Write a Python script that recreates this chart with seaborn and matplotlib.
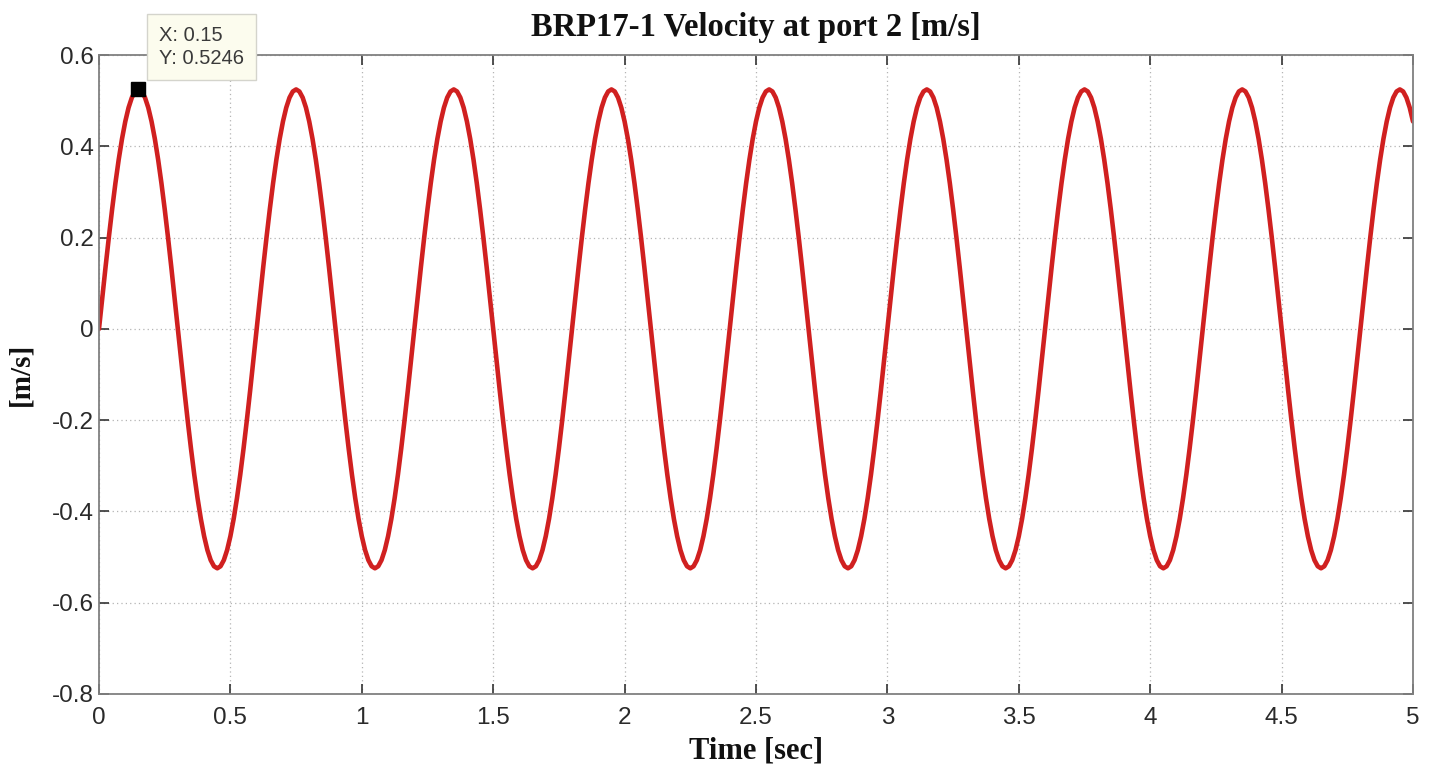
import numpy as np
import pandas as pd
import matplotlib
matplotlib.use("Agg")
import matplotlib.pyplot as plt
import seaborn as sns

# ---- data (samples every 0.0125 s) ----
time_step = 0.0125
velocity = [
    0.0, 0.0685, 0.1358, 0.2008, 0.2623, 0.3194, 0.3709, 0.4162, 0.4543, 0.4847, 0.5067, 0.5201,
    0.5246, 0.5201, 0.5067, 0.4847, 0.4543, 0.4162, 0.3709, 0.3194, 0.2623, 0.2008, 0.1358, 0.0685,
    0.0, -0.0685, -0.1358, -0.2008, -0.2623, -0.3194, -0.3709, -0.4162, -0.4543, -0.4847, -0.5067, -0.5201,
    -0.5246, -0.5201, -0.5067, -0.4847, -0.4543, -0.4162, -0.3709, -0.3194, -0.2623, -0.2008, -0.1358, -0.0685,
    0.0, 0.0685, 0.1358, 0.2008, 0.2623, 0.3194, 0.3709, 0.4162, 0.4543, 0.4847, 0.5067, 0.5201,
    0.5246, 0.5201, 0.5067, 0.4847, 0.4543, 0.4162, 0.3709, 0.3194, 0.2623, 0.2008, 0.1358, 0.0685,
    0.0, -0.0685, -0.1358, -0.2008, -0.2623, -0.3194, -0.3709, -0.4162, -0.4543, -0.4847, -0.5067, -0.5201,
    -0.5246, -0.5201, -0.5067, -0.4847, -0.4543, -0.4162, -0.3709, -0.3194, -0.2623, -0.2008, -0.1358, -0.0685,
    0.0, 0.0685, 0.1358, 0.2008, 0.2623, 0.3194, 0.3709, 0.4162, 0.4543, 0.4847, 0.5067, 0.5201,
    0.5246, 0.5201, 0.5067, 0.4847, 0.4543, 0.4162, 0.3709, 0.3194, 0.2623, 0.2008, 0.1358, 0.0685,
    0.0, -0.0685, -0.1358, -0.2008, -0.2623, -0.3194, -0.3709, -0.4162, -0.4543, -0.4847, -0.5067, -0.5201,
    -0.5246, -0.5201, -0.5067, -0.4847, -0.4543, -0.4162, -0.3709, -0.3194, -0.2623, -0.2008, -0.1358, -0.0685,
    0.0, 0.0685, 0.1358, 0.2008, 0.2623, 0.3194, 0.3709, 0.4162, 0.4543, 0.4847, 0.5067, 0.5201,
    0.5246, 0.5201, 0.5067, 0.4847, 0.4543, 0.4162, 0.3709, 0.3194, 0.2623, 0.2008, 0.1358, 0.0685,
    0.0, -0.0685, -0.1358, -0.2008, -0.2623, -0.3194, -0.3709, -0.4162, -0.4543, -0.4847, -0.5067, -0.5201,
    -0.5246, -0.5201, -0.5067, -0.4847, -0.4543, -0.4162, -0.3709, -0.3194, -0.2623, -0.2008, -0.1358, -0.0685,
    0.0, 0.0685, 0.1358, 0.2008, 0.2623, 0.3194, 0.3709, 0.4162, 0.4543, 0.4847, 0.5067, 0.5201,
    0.5246, 0.5201, 0.5067, 0.4847, 0.4543, 0.4162, 0.3709, 0.3194, 0.2623, 0.2008, 0.1358, 0.0685,
    0.0, -0.0685, -0.1358, -0.2008, -0.2623, -0.3194, -0.3709, -0.4162, -0.4543, -0.4847, -0.5067, -0.5201,
    -0.5246, -0.5201, -0.5067, -0.4847, -0.4543, -0.4162, -0.3709, -0.3194, -0.2623, -0.2008, -0.1358, -0.0685,
    0.0, 0.0685, 0.1358, 0.2008, 0.2623, 0.3194, 0.3709, 0.4162, 0.4543, 0.4847, 0.5067, 0.5201,
    0.5246, 0.5201, 0.5067, 0.4847, 0.4543, 0.4162, 0.3709, 0.3194, 0.2623, 0.2008, 0.1358, 0.0685,
    0.0, -0.0685, -0.1358, -0.2008, -0.2623, -0.3194, -0.3709, -0.4162, -0.4543, -0.4847, -0.5067, -0.5201,
    -0.5246, -0.5201, -0.5067, -0.4847, -0.4543, -0.4162, -0.3709, -0.3194, -0.2623, -0.2008, -0.1358, -0.0685,
    0.0, 0.0685, 0.1358, 0.2008, 0.2623, 0.3194, 0.3709, 0.4162, 0.4543, 0.4847, 0.5067, 0.5201,
    0.5246, 0.5201, 0.5067, 0.4847, 0.4543, 0.4162, 0.3709, 0.3194, 0.2623, 0.2008, 0.1358, 0.0685,
    0.0, -0.0685, -0.1358, -0.2008, -0.2623, -0.3194, -0.3709, -0.4162, -0.4543, -0.4847, -0.5067, -0.5201,
    -0.5246, -0.5201, -0.5067, -0.4847, -0.4543, -0.4162, -0.3709, -0.3194, -0.2623, -0.2008, -0.1358, -0.0685,
    0.0, 0.0685, 0.1358, 0.2008, 0.2623, 0.3194, 0.3709, 0.4162, 0.4543, 0.4847, 0.5067, 0.5201,
    0.5246, 0.5201, 0.5067, 0.4847, 0.4543, 0.4162, 0.3709, 0.3194, 0.2623, 0.2008, 0.1358, 0.0685,
    0.0, -0.0685, -0.1358, -0.2008, -0.2623, -0.3194, -0.3709, -0.4162, -0.4543, -0.4847, -0.5067, -0.5201,
    -0.5246, -0.5201, -0.5067, -0.4847, -0.4543, -0.4162, -0.3709, -0.3194, -0.2623, -0.2008, -0.1358, -0.0685,
    0.0, 0.0685, 0.1358, 0.2008, 0.2623, 0.3194, 0.3709, 0.4162, 0.4543, 0.4847, 0.5067, 0.5201,
    0.5246, 0.5201, 0.5067, 0.4847, 0.4543,
]
time_s = [round(i * time_step, 4) for i in range(len(velocity))]

datatip_x = 0.15
datatip_y = 0.5246

x_ticks = [0, 0.5, 1, 1.5, 2, 2.5, 3, 3.5, 4, 4.5, 5]
x_tick_labels = ["0", "0.5", "1", "1.5", "2", "2.5", "3", "3.5", "4", "4.5", "5"]
y_ticks = [-0.8, -0.6, -0.4, -0.2, 0, 0.2, 0.4, 0.6]
y_tick_labels = ["-0.8", "-0.6", "-0.4", "-0.2", "0", "0.2", "0.4", "0.6"]

title = "BRP17-1 Velocity at port 2 [m/s]"
x_label = "Time [sec]"
y_label = "[m/s]"

df = pd.DataFrame({"time": time_s, "velocity": velocity})

# ---- style ----
sns.set_theme(style="white")
plt.rcParams["font.family"] = ["Liberation Sans", "DejaVu Sans"]

fig = plt.figure(figsize=(14.37, 7.74), dpi=100)
ax = fig.add_axes([99 / 1437, 1 - 694 / 774, (1413 - 99) / 1437, (694 - 55) / 774])

sns.lineplot(data=df, x="time", y="velocity", ax=ax, color="#d02020",
             linewidth=3.3, solid_joinstyle="round", solid_capstyle="round")

ax.plot([datatip_x], [datatip_y], marker="s", color="black", markersize=10,
        linestyle="none", clip_on=False, zorder=5)

ax.set_xlim(0, 5)
ax.set_ylim(-0.8, 0.6)
ax.set_xticks(x_ticks)
ax.set_xticklabels(x_tick_labels)
ax.set_yticks(y_ticks)
ax.set_yticklabels(y_tick_labels)

ax.grid(True, color="#b4b4b4", linestyle=(0, (1, 2.5)), linewidth=0.9)
for s in ax.spines.values():
    s.set_visible(True)
    s.set_color("#808080")
    s.set_linewidth(1.3)

ax.tick_params(axis="both", which="both", direction="in", length=7, width=1.2,
               color="#333333", labelsize=17.5, labelcolor="#2a2a2a",
               top=True, right=True, bottom=True, left=True)
ax.tick_params(axis="x", pad=9)
ax.tick_params(axis="y", pad=4)

serif = ["Liberation Serif", "DejaVu Serif"]
ax.set_title(title, fontsize=23.5, fontweight="bold", family=serif, pad=14, color="#111111")
ax.set_xlabel(x_label, fontsize=22, fontweight="bold", family=serif, labelpad=6, color="#111111")
ax.set_ylabel(y_label, fontsize=21, fontweight="bold", family=serif, labelpad=12, color="#111111")

fig.text(159 / 1437, 1 - 47 / 774, f"X: {datatip_x}\nY: {datatip_y}",
         fontsize=14.5, va="center", ha="left", linespacing=1.3, color="#3a3a3a",
         bbox=dict(boxstyle="square,pad=0.6", fc="#fcfcee", ec="#d4d4cc", lw=1))

fig.savefig("out.png", dpi=100, facecolor="white")
